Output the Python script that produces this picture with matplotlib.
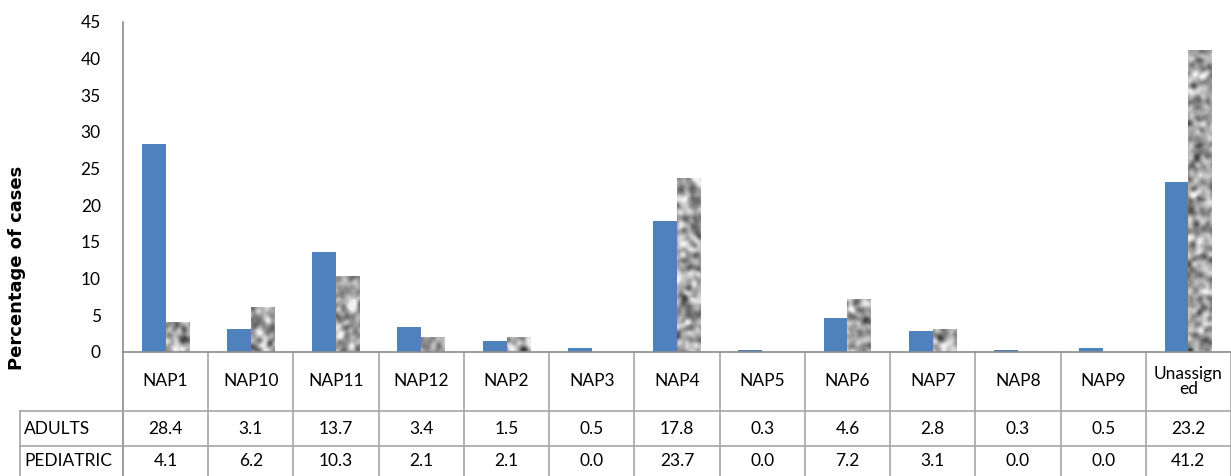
import numpy as np
import matplotlib.pyplot as plt
from matplotlib.transforms import blended_transform_factory

plt.rcParams['font.family'] = ['Lato', 'DejaVu Sans']

categories = ["NAP1", "NAP10", "NAP11", "NAP12", "NAP2", "NAP3", "NAP4",
              "NAP5", "NAP6", "NAP7", "NAP8", "NAP9", "Unassign\ned"]
adults = [28.4, 3.1, 13.7, 3.4, 1.5, 0.5, 17.8, 0.3, 4.6, 2.8, 0.3, 0.5, 23.2]
pediatric = [4.1, 6.2, 10.3, 2.1, 2.1, 0.0, 23.7, 0.0, 7.2, 3.1, 0.0, 0.0, 41.2]
row_names = ["ADULTS", "PEDIATRIC"]
yticks = [0, 5, 10, 15, 20, 25, 30, 35, 40, 45]

W, H = 1231, 476
fig = plt.figure(figsize=(W / 100, H / 100), dpi=100)
x0, y0, y1 = 123, 352, 22
ax = fig.add_axes([x0 / W, (H - y0) / H, (W - x0) / W, (y0 - y1) / H])

x = np.arange(len(categories))
bw = 0.28
ax.bar(x - bw / 2, adults, bw, color='#4F81BD')
ped_bars = ax.bar(x + bw / 2, pediatric, bw, color='none')

# granite-like texture for pediatric bars
rng = np.random.default_rng(3)
noise = rng.random((360, 1140))
for k in (3, 2, 1):
    for axis in (0, 1):
        c = np.cumsum(noise, axis=axis)
        noise = (np.roll(c, -k, axis=axis) - np.roll(c, k, axis=axis)) / (2 * k)
noise = noise[20:-20, 20:-20]
noise = (noise - noise.mean()) / noise.std()
tex = np.clip(0.64 + 0.13 * noise, 0.25, 0.95)
for b in ped_bars:
    if b.get_height() <= 0:
        continue
    im = ax.imshow(tex, cmap='gray', vmin=0, vmax=1, extent=(-0.5, 12.5, 0, 45),
                   aspect='auto', interpolation='bilinear', zorder=2)
    im.set_clip_path(b)

ax.set_xlim(-0.5, 12.5)
ax.set_ylim(0, 45)
ax.set_yticks(yticks)
ax.set_xticks([])
ax.tick_params(axis='y', length=0, labelsize=12.5, pad=16)
for s in ('top', 'right'):
    ax.spines[s].set_visible(False)
for s in ('left', 'bottom'):
    ax.spines[s].set_color('#8c8c8c')
    ax.spines[s].set_linewidth(1.2)

fig.text(17 / W, 1 - 268 / H, "Percentage of cases", rotation=90,
         ha='center', va='center', fontsize=13, fontweight='bold',
         family='DejaVu Sans')

# data table below the axis
tr = blended_transform_factory(ax.transData, ax.transAxes)
def yax(py):
    return (y0 - py) / (y0 - y1)

lc = '#a6a6a6'
rows_y = [411, 446, 481]
label_left = -0.5 - (x0 - 20) / ((W - x0) / 13)
ax.plot([-0.5, -0.5], [yax(y0), yax(H + 5)], color='#8c8c8c', lw=1.2,
        transform=tr, clip_on=False)
for i in range(1, len(categories) + 1):
    ax.plot([i - 0.5, i - 0.5], [yax(y0), yax(H + 5)], color=lc, lw=1.2,
            transform=tr, clip_on=False)
ax.plot([label_left, label_left], [yax(rows_y[0]), yax(H + 5)], color=lc,
        lw=1.2, transform=tr, clip_on=False)
for ry in rows_y[:2]:
    ax.plot([label_left, 12.6], [yax(ry), yax(ry)], color=lc, lw=1.2,
            transform=tr, clip_on=False)

for i, name in enumerate(categories):
    ax.text(i, yax((y0 + rows_y[0]) / 2), name, transform=tr, ha='center',
            va='center', fontsize=12.5, linespacing=1.0)
for r, (name, vals) in enumerate(zip(row_names, [adults, pediatric])):
    cy = yax((rows_y[r] + rows_y[r + 1]) / 2 - (3 if r == 1 else 0))
    ax.text(label_left + 0.05, cy, name, transform=tr, ha='left', va='center',
            fontsize=12.5)
    for i, v in enumerate(vals):
        ax.text(i, cy, f"{v:.1f}", transform=tr, ha='center', va='center',
                fontsize=12.5)

fig.savefig("out.png", dpi=100)
